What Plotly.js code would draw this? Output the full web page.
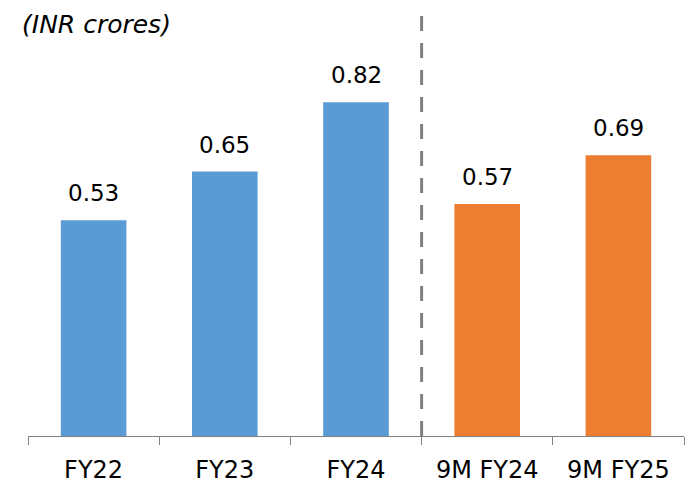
<!DOCTYPE html>
<html>
<head>
<meta charset="utf-8">
<script src="https://cdn.plot.ly/plotly-3.0.1.min.js"></script>
<style>html,body{margin:0;padding:0;background:#fff;}#chart{width:694px;height:484px;}</style>
</head>
<body>
<div id="chart"></div>
<script>
const categories = ["FY22", "FY23", "FY24", "9M FY24", "9M FY25"];
const values = [0.53, 0.65, 0.82, 0.57, 0.69];
const unitLabel = "(INR crores)";

const BLUE = "#5B9BD5", ORANGE = "#ED7D31";
const colors = categories.map(c => c.startsWith("9M") ? ORANGE : BLUE);
const FONT = "DejaVu Sans";

const trace = {
  type: "bar",
  x: categories,
  y: values,
  width: 0.5,
  marker: {color: colors},
  hoverinfo: "none"
};

const annotations = categories.map((c, i) => ({
  x: c, y: values[i], xref: "x", yref: "y",
  text: values[i].toFixed(2),
  showarrow: false, yanchor: "bottom", yshift: 12,
  font: {family: FONT, size: 23, color: "#000"}
}));
annotations.push({
  xref: "paper", yref: "paper", x: -0.012, y: 1.005,
  xanchor: "left", yanchor: "top",
  text: "<i>" + unitLabel + "</i>", showarrow: false,
  font: {family: FONT, size: 25, color: "#000"}
});

const layout = {
  width: 694, height: 484,
  margin: {l: 28, r: 10, t: 10, b: 48},
  paper_bgcolor: "#fff", plot_bgcolor: "#fff",
  showlegend: false,
  xaxis: {
    type: "category", categoryorder: "array", categoryarray: categories,
    range: [-0.5, 4.5],
    showline: true, linecolor: "#808080", linewidth: 1,
    ticks: "outside", tickson: "boundaries", ticklen: 8, tickcolor: "#808080", tickwidth: 1,
    ticklabelstandoff: 12,
    tickfont: {family: FONT, size: 24, color: "#000"},
    showgrid: false, zeroline: false, fixedrange: true
  },
  yaxis: {
    range: [0, 1.047], visible: false, showgrid: false, zeroline: false, fixedrange: true
  },
  shapes: [{
    type: "line", xref: "x", yref: "paper",
    x0: 2.5, x1: 2.5, y0: 0, y1: 0.995,
    line: {color: "#808080", width: 3, dash: "15px,12px"}
  }],
  annotations: annotations
};

Plotly.newPlot("chart", [trace], layout, {displayModeBar: false, staticPlot: true});
</script>
</body>
</html>
